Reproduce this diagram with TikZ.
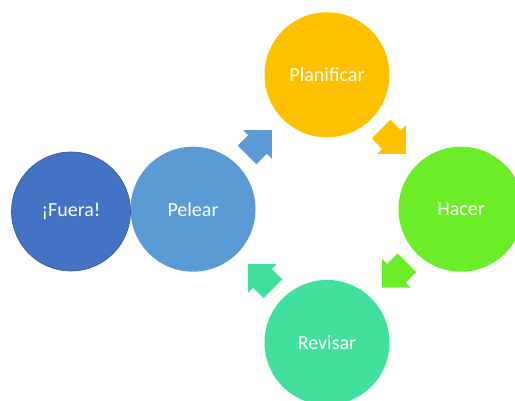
\documentclass[tikz,border=0pt]{standalone}
\usepackage{fontspec}
\setmainfont{Carlito}
\usetikzlibrary{shapes.arrows,calc}
\definecolor{fuera}{HTML}{4472C4}
\definecolor{pelear}{HTML}{5B9BD5}
\definecolor{planif}{HTML}{FFC000}
\definecolor{hacer}{HTML}{6BEE27}
\definecolor{revisar}{HTML}{42E09D}

\begin{document}
\begin{tikzpicture}[x=1pt,y=1pt,
  step circle/.style={circle,minimum size=125pt,inner sep=0pt,text=white,
    font=\fontsize{20}{22}\selectfont},
  block/.style={single arrow,draw=none,inner xsep=0pt,inner ysep=13pt,anchor=tip,
    minimum height=35pt,single arrow head extend=7pt,single arrow tip angle=90}]
  \useasboundingbox (0,0) rectangle (515,401);
  % nodes
	\node [step circle,fill=planif] (plan) at (327, 326.2) {Planificar};
	\node [step circle,fill=hacer] (hacer) at (461, 191.8) {Hacer};
	\node [step circle,fill=revisar] (rev) at (327, 58.5) {Revisar};
	\node [step circle,fill=pelear] (pelear) at (193, 191.8) {Pelear};
	\node [step circle,fill=fuera,draw=fuera!75!black,line width=0.6pt,minimum size=119pt] (fuera) at (71, 189.5) {¡Fuera!};
	% arrows
	\node [block,fill=pelear,rotate=45] (a1) at ($(pelear)!0.5!(plan)!17pt!(plan)$) {};
	\node [block,fill=planif,rotate=-45] (a2) at ($(plan)!0.5!(hacer)!17pt!(hacer)$) {};
	\node [block,fill=hacer,rotate=-135] (a3) at ($(hacer)!0.5!(rev)!17pt!(rev)$) {};
	\node [block,fill=revisar,rotate=135] (a4) at ($(rev)!0.5!(pelear)!17pt!(pelear)$) {};
\end{tikzpicture}
\end{document}
